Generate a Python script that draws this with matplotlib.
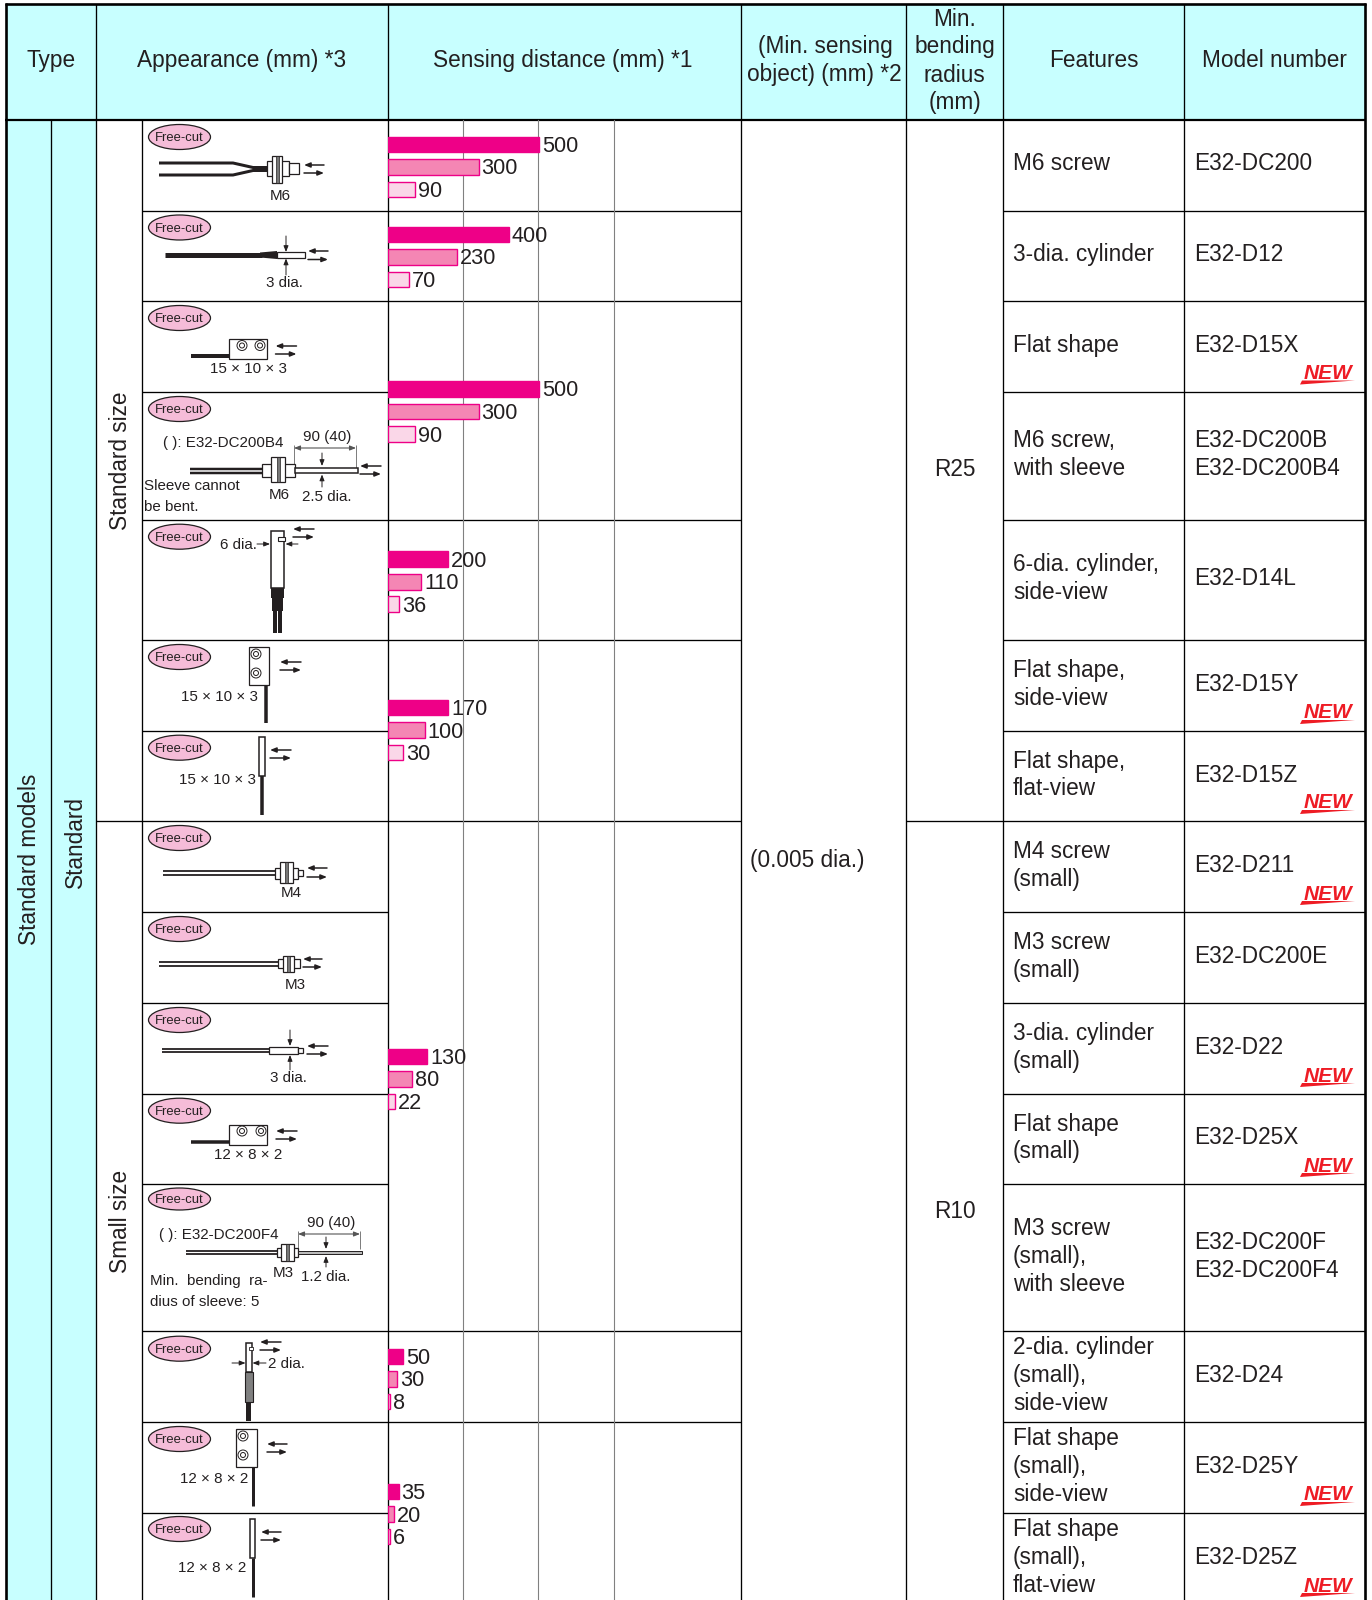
import matplotlib
matplotlib.use('Agg')
import matplotlib.pyplot as plt
from matplotlib.patches import Ellipse, Rectangle, Polygon, Circle

plt.rcParams['font.family'] = ['Liberation Sans', 'DejaVu Sans']

# printed values and the drawn length of each bar (the 170 group is drawn longer than printed)
printed = [['500', '300', '90'], ['400', '230', '70'], ['500', '300', '90'], ['200', '110', '36'],
           ['170', '100', '30'], ['130', '80', '22'], ['50', '30', '8'], ['35', '20', '6']]
lengths = [[500, 300, 90], [400, 230, 70], [500, 300, 90], [200, 110, 36],
           [200, 122, 50], [130, 80, 22], [50, 30, 8], [35, 20, 6]]
bar_colors = ['#EE0087', '#F486B4', '#FAD7E8']
axis_ticks = [250, 500, 750]

headers = ['Type', 'Appearance (mm) *3', 'Sensing distance (mm) *1', 'Features', 'Model number']
features = [['M6 screw'], ['3-dia. cylinder'], ['Flat shape'], ['M6 screw,', 'with sleeve'],
            ['6-dia. cylinder,', 'side-view'], ['Flat shape,', 'side-view'], ['Flat shape,', 'flat-view'],
            ['M4 screw', '(small)'], ['M3 screw', '(small)'], ['3-dia. cylinder', '(small)'],
            ['Flat shape', '(small)'], ['M3 screw', '(small),', 'with sleeve'],
            ['2-dia. cylinder', '(small),', 'side-view'], ['Flat shape', '(small),', 'side-view'],
            ['Flat shape', '(small),', 'flat-view']]
models = [['E32-DC200'], ['E32-D12'], ['E32-D15X'], ['E32-DC200B', 'E32-DC200B4'], ['E32-D14L'],
          ['E32-D15Y'], ['E32-D15Z'], ['E32-D211'], ['E32-DC200E'], ['E32-D22'], ['E32-D25X'],
          ['E32-DC200F', 'E32-DC200F4'], ['E32-D24'], ['E32-D25Y'], ['E32-D25Z']]
is_new = [0, 0, 1, 0, 0, 1, 1, 1, 0, 1, 1, 0, 0, 1, 1]

# layout, in pixels of the 1372x1600 page
row_edges = [119.5, 210.5, 301, 391.5, 519.5, 640, 731, 821, 912, 1003, 1094, 1184, 1331, 1422, 1513, 1604]
badge_y = [137, 227.5, 318, 409, 536.7, 657, 747.7, 838, 929, 1020, 1110.7, 1199, 1348.7, 1439, 1529]
group_mid = [167, 257, 411.5, 581.7, 730, 1079, 1379, 1514]
INK = '#231F20'
BODY = 16.3
SMALL = 10.9

fig = plt.figure(figsize=(13.72, 16), dpi=100)
ax = fig.add_axes([0, 0, 1, 1])
ax.set_xlim(0, 1372)
ax.set_ylim(1600, 0)
ax.axis('off')


def hline(y, x0, x1, lw=0.95, color='black'):
    ax.plot([x0, x1], [y, y], color=color, lw=lw, solid_capstyle='butt')


def vline(x, y0, y1, lw=0.95, color='black'):
    ax.plot([x, x], [y0, y1], color=color, lw=lw, solid_capstyle='butt')


def body(x, y, s, ha='center', **kw):
    ax.text(x, y, s, fontsize=BODY, color=INK, ha=ha, va='center', **kw)


def small(x, y, s, ha='center'):
    ax.text(x, y + 1, s, fontsize=SMALL, color=INK, ha=ha, va='center')


def arrow(x0, y0, x1, y1, lw=0.9, size=5):
    ax.annotate('', xy=(x1, y1), xytext=(x0, y0),
                arrowprops=dict(arrowstyle='-|>,head_width=0.18,head_length=0.45', lw=lw, color=INK,
                                mutation_scale=size * 1.6, shrinkA=0, shrinkB=0))


def light_arrows(x0, x1, y0, y1):
    arrow(x1, y0, x0, y0, lw=1.1)
    arrow(x0, y1, x1, y1, lw=1.1)


def box(x0, y0, x1, y1, fc='white', lw=0.9, z=3):
    ax.add_patch(Rectangle((x0, y0), x1 - x0, y1 - y0, fc=fc, ec=INK, lw=lw, zorder=z))


def cable(xs, ys, px=3.0):
    ax.plot(xs, ys, color=INK, lw=px * 0.72, solid_capstyle='butt', solid_joinstyle='round', zorder=2)


def lens(x, y, r=5):
    ax.add_patch(Circle((x, y), r, fc='white', ec=INK, lw=0.7, zorder=4))
    ax.add_patch(Circle((x, y), r * 0.5, fc='white', ec=INK, lw=0.7, zorder=4))


def screw(x0, x1, y0, y1, nx0, nx1, ny0, ny1):
    box(x0, y0, x1, y1)
    box(nx0, ny0, nx1, ny1)
    mid = (nx0 + nx1) / 2
    ax.add_patch(Rectangle((mid - 1.5, ny0), 3, ny1 - ny0, fc='#777777', ec=INK, lw=0.5, zorder=4))


# ---- backgrounds
ax.add_patch(Rectangle((6, 4), 1359, 115.5, fc='#C8FFFF', ec='none', zorder=0))
ax.add_patch(Rectangle((6, 119.5), 90, 1481, fc='#C8FFFF', ec='none', zorder=0))

# ---- table rules
for x in [96, 388, 740.5, 906, 1003, 1184]:
    vline(x, 4, 1600)
vline(51, 119.5, 1600)
vline(142, 119.5, 1600)
vline(6, 3, 1600, lw=1.9)
vline(1365, 3, 1600, lw=1.9)
hline(4, 5, 1366, lw=1.9)
hline(119.5, 5, 1366, lw=1.6)

for y in row_edges[1:-1]:
    if y == 821:
        hline(y, 96, 740.5)
        hline(y, 906, 1365)
        continue
    hline(y, 142, 388)
    hline(y, 1003, 1365)
    if y not in (391.5, 731, 912, 1003, 1094, 1184, 1513):
        hline(y, 388, 740.5)

# ---- header text
body(51, 60.5, headers[0])
body(242, 60.5, headers[1])
body(563, 60.5, headers[2])
body(825, 47, '(Min. sensing')
body(824, 74.5, 'object) (mm) *2')
for s, y in zip(['Min.', 'bending', 'radius', '(mm)'], [19, 47, 75, 102]):
    body(954.5, y, s)
body(1093.5, 60.5, headers[3])
body(1274, 60.5, headers[4])

# ---- rotated type labels
for x, y, s in [(30, 859, 'Standard models'), (75, 842, 'Standard'),
                (120.5, 461, 'Standard size'), (120.5, 1221, 'Small size')]:
    body(x, y, s, rotation=90)

# ---- merged cells
body(750, 861, '(0.005 dia.)', ha='left')
body(954.5, 470, 'R25')
body(954.5, 1212, 'R10')

# ---- features, models, NEW marks
for i in range(len(features)):
    mid = (row_edges[i] + row_edges[i + 1]) / 2 - 1
    for j, s in enumerate(features[i]):
        body(1013, mid + (j - (len(features[i]) - 1) / 2) * 27.6, s, ha='left')
    for j, s in enumerate(models[i]):
        body(1194, mid + (j - (len(models[i]) - 1) / 2) * 27.6, s, ha='left')
    if is_new[i]:
        bottom = row_edges[i + 1]
        ax.text(1352, bottom - 18, 'NEW', fontsize=15, color='#EE1C25', fontweight='bold', style='italic',
                ha='right', va='center')
        ax.add_patch(Polygon([(1302, bottom - 11), (1300, bottom - 7), (1355, bottom - 11)],
                             fc='#EE1C25', ec='none'))

# ---- free-cut badges
for y in badge_y:
    h = 22 if y == 1199 else 25
    ax.add_patch(Ellipse((179.5, y), 62, h, fc='#F5BCD8', ec=INK, lw=0.9, zorder=3))
    ax.text(179.5, y + 1, 'Free-cut', fontsize=9.4, color=INK, ha='center', va='center', zorder=4)

# ---- row 1: M6 screw
cable([159, 233, 253, 268], [163, 163, 167.5, 167.5])
cable([159, 233, 253, 268], [175, 175, 170.5, 170.5])
screw(267, 289, 161, 176, 272, 282, 156, 182.5)
box(289, 163, 299, 174)
light_arrows(304, 324, 165, 173)
small(280, 195, 'M6')

# ---- row 2: 3 dia
cable([165, 262], [255, 255], px=5)
ax.add_patch(Polygon([(260, 252.5), (277, 251), (277, 259), (260, 257.5)], fc=INK, ec='none', zorder=2))
box(277, 252, 305, 258)
light_arrows(308, 328, 251, 259.5)
arrow(286, 236, 286, 252, lw=0.7)
arrow(286, 275, 286, 258.5, lw=0.7)
small(284, 282, '3 dia.')

# ---- row 3: flat shape
cable([191, 229], [356, 356], px=4)
box(229, 339, 267, 359)
lens(242, 345.5)
lens(260, 345.5)
light_arrows(275.5, 296.5, 346, 354)
small(248, 368, '15 × 10 × 3')

# ---- row 4: M6 with sleeve
small(163, 442, '( ): E32-DC200B4', ha='left')
small(327, 436, '90 (40)')
vline(294, 445, 470, lw=0.6, color='#666666')
vline(356, 445, 470, lw=0.6, color='#666666')
ax.annotate('', xy=(294, 448), xytext=(356, 448),
            arrowprops=dict(arrowstyle='<|-|>,head_width=0.18,head_length=0.45', lw=0.8, color='#555555',
                            mutation_scale=8, shrinkA=0, shrinkB=0))
cable([190, 262], [468.5, 468.5], px=2.5)
cable([190, 262], [472.5, 472.5], px=2.5)
screw(262, 295, 464, 477, 271, 285, 457, 482)
box(295, 467.7, 357.7, 473, lw=1.1)
arrow(322, 453, 322, 466, lw=0.7)
arrow(322, 487, 322, 474.5, lw=0.7)
light_arrows(360, 381, 466, 474)
small(144, 485, 'Sleeve cannot', ha='left')
small(144, 506, 'be bent.', ha='left')
small(279, 494, 'M6')
small(327, 496, '2.5 dia.')

# ---- row 5: 6 dia side-view
small(220, 544, '6 dia.', ha='left')
arrow(257, 544, 270, 544, lw=0.7)
arrow(298, 544, 285.5, 544, lw=0.7)
box(271, 531, 284, 588, lw=1.1)
box(278, 537, 285, 541, lw=0.8, z=4)
ax.add_patch(Rectangle((271, 588), 13, 10, fc=INK, ec='none', zorder=4))
ax.add_patch(Rectangle((272, 598), 11, 12.7, fc=INK, ec='none', zorder=4))
cable([275, 275], [610, 632.7], px=4)
cable([280, 280], [610, 632.7], px=4)
light_arrows(293, 314, 529, 537)

# ---- row 6: flat shape side-view
box(249, 647, 269, 685)
lens(256, 654)
lens(256, 673)
cable([266, 266], [685, 723], px=3.5)
light_arrows(280, 301, 662, 670)
small(219, 696, '15 × 10 × 3')

# ---- row 7: flat shape flat-view
box(259, 737, 265, 776, lw=1.1)
cable([262, 262], [776, 815], px=3.5)
light_arrows(270, 291, 750, 758)
small(217, 779, '15 × 10 × 3')

# ---- row 8: M4
cable([163, 275], [871, 871], px=1.8)
cable([163, 275], [875, 875], px=1.8)
screw(275, 298, 868, 879, 280, 293, 862, 883)
box(298, 870, 303, 876)
light_arrows(307, 327, 868, 877)
small(291, 892, 'M4')

# ---- row 9: M3
cable([159, 278], [962, 962], px=1.8)
cable([159, 278], [965.5, 965.5], px=1.8)
screw(278, 300, 959, 968, 283, 294, 956, 972)
light_arrows(303, 322, 959, 967)
small(295, 984, 'M3')

# ---- row 10: 3 dia small
cable([162, 269], [1049, 1049], px=1.8)
cable([162, 269], [1052, 1052], px=1.8)
box(269, 1047, 298, 1054)
box(298, 1048, 303, 1053)
light_arrows(307, 328, 1046, 1054)
arrow(290, 1030, 290, 1046, lw=0.7)
arrow(290, 1070, 290, 1055, lw=0.7)
small(288, 1077, '3 dia.')

# ---- row 11: flat shape small
cable([191, 229], [1142, 1142], px=3.5)
box(229, 1125, 267, 1145)
lens(242, 1131)
lens(261, 1131)
light_arrows(276, 297, 1131, 1139)
small(248, 1154, '12 × 8 × 2')

# ---- row 12: M3 with sleeve
small(159, 1234, '( ): E32-DC200F4', ha='left')
small(331, 1222, '90 (40)')
vline(298, 1231, 1249, lw=0.6, color='#666666')
vline(360, 1231, 1249, lw=0.6, color='#666666')
ax.annotate('', xy=(298, 1234), xytext=(360, 1234),
            arrowprops=dict(arrowstyle='<|-|>,head_width=0.18,head_length=0.45', lw=0.8, color='#555555',
                            mutation_scale=8, shrinkA=0, shrinkB=0))
cable([186, 277], [1251, 1251], px=1.8)
cable([186, 277], [1254, 1254], px=1.8)
screw(277, 298, 1248, 1257, 281, 294, 1244, 1261)
ax.add_patch(Rectangle((298, 1251), 64, 3, fc='#BBBBBB', ec=INK, lw=0.7, zorder=3))
arrow(326, 1237, 326, 1249, lw=0.7)
arrow(326, 1267, 326, 1256, lw=0.7)
small(283, 1272, 'M3')
small(326, 1276, '1.2 dia.')
small(150, 1280, 'Min.  bending  ra-', ha='left')
small(150, 1301, 'dius of sleeve: 5', ha='left')

# ---- row 13: 2 dia side-view
box(246, 1343, 252, 1372, lw=1.1)
box(249, 1347, 252.5, 1350, lw=0.6, z=4)
ax.add_patch(Rectangle((245, 1372), 8, 30, fc='#808080', ec=INK, lw=0.8, zorder=3))
ax.add_patch(Rectangle((246, 1402), 5, 19, fc=INK, ec='none', zorder=3))
light_arrows(260, 281, 1342, 1350)
arrow(232, 1363, 245.5, 1363, lw=0.7)
arrow(266, 1363, 252.5, 1363, lw=0.7)
small(268, 1363, '2 dia.', ha='left')

# ---- row 14: flat shape small side-view
box(236, 1429, 257, 1467)
lens(243, 1436)
lens(243, 1455)
cable([253, 253], [1467, 1506], px=3)
light_arrows(267, 287, 1444, 1452)
small(214, 1478, '12 × 8 × 2')

# ---- row 15: flat shape small flat-view
box(250, 1519, 255, 1558, lw=1.1)
cable([252.5, 252.5], [1558, 1597], px=3)
light_arrows(261, 281, 1532, 1540)
small(212, 1567, '12 × 8 × 2')

# ---- sensing distance bars, on their own axis over the chart column
bx = fig.add_axes([388 / 1372, 0, (741 - 388) / 1372, 1])
bx.set_xlim(0, 353 / 0.302)
bx.set_ylim(1600, 0)
bx.patch.set_visible(False)
bx.axis('off')
for t in axis_ticks:
    bx.plot([t - 2, t - 2], [119.5, 1600], color='#808080', lw=0.8, zorder=1)

for mid, vals, labels in zip(group_mid, lengths, printed):
    ys = [mid - 22.5, mid, mid + 22.5]
    for k in range(3):
        bx.barh(ys[k], vals[k], height=15.6, color=bar_colors[k], edgecolor=bar_colors[0], linewidth=1.0, zorder=2)
        bx.annotate(labels[k], (vals[k], ys[k] + 2), xytext=(2, 0), textcoords='offset points',
                    fontsize=15.6, color=INK, ha='left', va='center', zorder=3)

fig.savefig('out.png', dpi=100)
